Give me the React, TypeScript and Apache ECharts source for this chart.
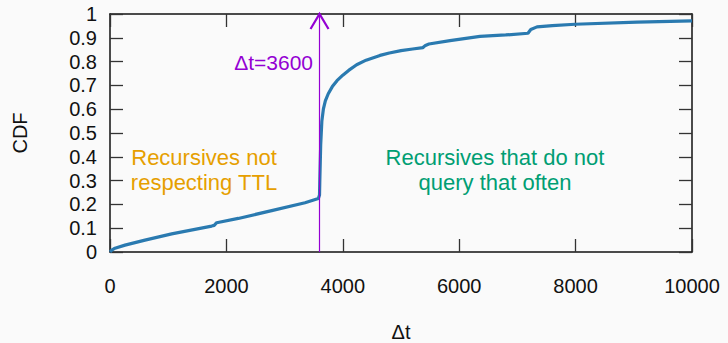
import React, { useEffect, useRef } from "react";
import * as echarts from "echarts";

const xValues = [0, 30, 86, 258, 601, 1060, 1747, 1790, 1833, 2204, 2778, 3351, 3580, 3600, 3605, 3620, 3640, 3666, 3700, 3750, 3820, 3900, 4000, 4100, 4238, 4400, 4639, 4800, 5000, 5200, 5378, 5420, 5480, 5842, 6357, 6800, 7182, 7230, 7337, 7600, 7990, 9055, 10000];
const cdfValues = [0, 0.008, 0.016, 0.029, 0.05, 0.076, 0.109, 0.112, 0.123, 0.141, 0.174, 0.207, 0.225, 0.24, 0.3, 0.45, 0.55, 0.6, 0.635, 0.665, 0.695, 0.72, 0.743, 0.763, 0.787, 0.806, 0.826, 0.836, 0.846, 0.853, 0.859, 0.868, 0.874, 0.888, 0.906, 0.912, 0.919, 0.935, 0.946, 0.951, 0.957, 0.966, 0.971];
const xTicks = [0, 2000, 4000, 6000, 8000, 10000];
const markerX = 3600;
const markerLabel = "Δt=3600";
const leftNote = "Recursives not\nrespecting TTL";
const rightNote = "Recursives that do not\nquery that often";

const FONT = "Liberation Sans, Arial, Helvetica, sans-serif";

export default function App() {
  const ref = useRef<HTMLDivElement>(null);
  useEffect(() => {
    document.body.style.margin = "0";
    const chart = echarts.init(ref.current!, null, { renderer: "svg" });
    const data = xValues.map((x, i) => [x, cdfValues[i]]);
    const axisLine = { show: true, onZero: false, lineStyle: { color: "#111", width: 1.5 } };
    const tick = { show: true, inside: true, length: 13, lineStyle: { color: "#333", width: 1.3 } };
    chart.setOption({
      animation: false,
      backgroundColor: "#fafafa",
      textStyle: { fontFamily: FONT },
      grid: { left: 110, right: 36, top: 14, bottom: 91, containLabel: false, outerBoundsMode: "none" },
      xAxis: [
        {
          type: "value", min: 0, max: 10000, interval: 2000, position: "bottom",
          name: "Δt", nameLocation: "middle", nameGap: 70,
          nameTextStyle: { fontSize: 20, color: "#111", fontFamily: FONT },
          axisLine, axisTick: tick, splitLine: { show: false },
          axisLabel: { margin: 24, fontSize: 20, color: "#111", fontFamily: FONT,
            formatter: (v: number) => (xTicks.includes(v) ? String(v) : "") },
        },
        {
          type: "value", min: 0, max: 10000, interval: 2000, position: "top",
          axisLine, axisTick: tick, splitLine: { show: false }, axisLabel: { show: false },
        },
      ],
      yAxis: [
        {
          type: "value", min: 0, max: 1, interval: 0.1, position: "left",
          name: "CDF", nameLocation: "middle", nameGap: 80, nameRotate: 90,
          nameTextStyle: { fontSize: 20, color: "#111", fontFamily: FONT },
          axisLine, axisTick: tick, splitLine: { show: false },
          axisLabel: { margin: 13, fontSize: 20, color: "#111", fontFamily: FONT,
            formatter: (v: number) => String(Math.round(v * 10) / 10) },
        },
        {
          type: "value", min: 0, max: 1, interval: 0.1, position: "right",
          axisLine, axisTick: tick, splitLine: { show: false }, axisLabel: { show: false },
        },
      ],
      series: [
        {
          type: "line", data, showSymbol: false, symbol: "none",
          lineStyle: { color: "#2a7ab0", width: 3.2 },
          markLine: {
            silent: true, animation: false,
            symbol: ["none", "none"],
            label: { show: false },
            lineStyle: { color: "#9400d3", width: 1.2, type: "solid" },
            data: [[{ coord: [markerX, 0] }, { coord: [markerX, 1] }]],
          },
        },
      ],
    });
    const tip = chart.convertToPixel({ xAxisIndex: 0, yAxisIndex: 0 }, [markerX, 1]) as number[];
    chart.setOption({
      graphic: [
        { type: "polyline", shape: { points: [[tip[0] - 9, tip[1] + 15], [tip[0], tip[1]], [tip[0] + 9, tip[1] + 15]] }, style: { stroke: "#9400d3", lineWidth: 2.2, fill: "none" }, z: 10 },
        { type: "text", x: 313, y: 62, style: { text: markerLabel, fill: "#9400d3", font: `21px ${FONT}`, textAlign: "right", textVerticalAlign: "middle" } },
        { type: "text", x: 204, y: 170, style: { text: leftNote, fill: "#e69f00", font: `22px ${FONT}`, lineHeight: 25, textAlign: "center", textVerticalAlign: "middle" } },
        { type: "text", x: 495, y: 170, style: { text: rightNote, fill: "#009e73", font: `22px ${FONT}`, lineHeight: 25, textAlign: "center", textVerticalAlign: "middle" } },
      ],
    });
    return () => chart.dispose();
  }, []);
  return <div ref={ref} style={{ position: "absolute", left: 0, top: 0, width: 728, height: 343, background: "#fafafa" }} />;
}
